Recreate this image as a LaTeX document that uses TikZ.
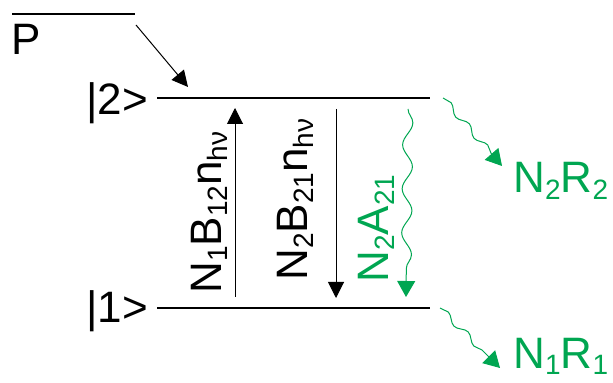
\documentclass[tikz,border=0pt]{standalone}
\usepackage{fontspec}
\setmainfont{Liberation Sans}
\usetikzlibrary{arrows.meta,decorations.pathmorphing}
\definecolor{emgreen}{RGB}{0,166,81}
\newcommand{\lo}[1]{\raisebox{-0.3ex}{\fontsize{14}{14}\selectfont #1}}
\begin{document}
\begin{tikzpicture}[x=0.5pt,y=-0.5pt,
  lvl/.style={line width=0.6pt},
  lbl/.style={inner sep=0pt,font=\fontsize{22}{22}\selectfont},
  tip/.style={-{Triangle[length=8pt,width=8pt]}},
  wave/.style={emgreen,line width=0.5pt,decorate}]
\useasboundingbox (0,0) rectangle (613,383);
% pump level P
\coordinate (p0) at (12,14);
\coordinate (p1) at (135,14);
\draw[lvl] (p0) -- (p1);
\node[lbl,anchor=base west] (pl) at (11,55) {P};
% the two levels
\coordinate (u0) at (157,98);
\coordinate (u1) at (430,98);
\coordinate (d0) at (157,308);
\coordinate (d1) at (430,308);
\draw[lvl] (u0) -- (u1);
\draw[lvl] (d0) -- (d1);
\node[lbl,anchor=base west] (ket2) at (86,115) {|2>};
\node[lbl,anchor=base west] (ket1) at (86,323) {|1>};
% pumping into |2>
\coordinate (pa) at (136,25);
\coordinate (pb) at (188,87);
\draw[line width=0.5pt,tip] (pa) -- (pb);
% absorption and stimulated emission
\coordinate (ab0) at (235,297);
\coordinate (ab1) at (235,108);
\coordinate (se0) at (336,109);
\coordinate (se1) at (336,298);
\draw[line width=0.5pt,tip] (ab0) -- (ab1);
\draw[line width=0.5pt,tip] (se0) -- (se1);
\node[lbl,rotate=90,anchor=base west] (abl) at (221,294) {N\lo{1}B\lo{12}n\lo{hν}};
\node[lbl,rotate=90,anchor=base west] (sel) at (307,281) {N\lo{2}B\lo{21}n\lo{hν}};
% spontaneous emission
\coordinate (sp0) at (408,109);
\coordinate (sp1) at (406,297);
\draw[wave,decoration={snake,amplitude=2.5pt,segment length=22pt,post length=7pt},
  -{Triangle[length=8pt,width=9pt]}] (sp0) -- (sp1);
\node[lbl,emgreen,rotate=90,anchor=base west] (spl) at (388,283) {N\lo{2}A\lo{21}};
% relaxation out of the levels
\coordinate (r2a) at (443,98);
\coordinate (r2b) at (502,166);
\coordinate (r1a) at (440,308);
\coordinate (r1b) at (500,368);
\draw[wave,decoration={snake,amplitude=1.5pt,segment length=14pt,post length=7pt},
  -{Triangle[length=8pt,width=9pt]}] (r2a) -- (r2b);
\draw[wave,decoration={snake,amplitude=1.5pt,segment length=14pt,post length=7pt},
  -{Triangle[length=8pt,width=9pt]}] (r1a) -- (r1b);
\node[lbl,emgreen,anchor=base west] (r2l) at (513,193) {N\lo{2}R\lo{2}};
\node[lbl,emgreen,anchor=base west] (r1l) at (513,368) {N\lo{1}R\lo{1}};
\end{tikzpicture}
\end{document}
